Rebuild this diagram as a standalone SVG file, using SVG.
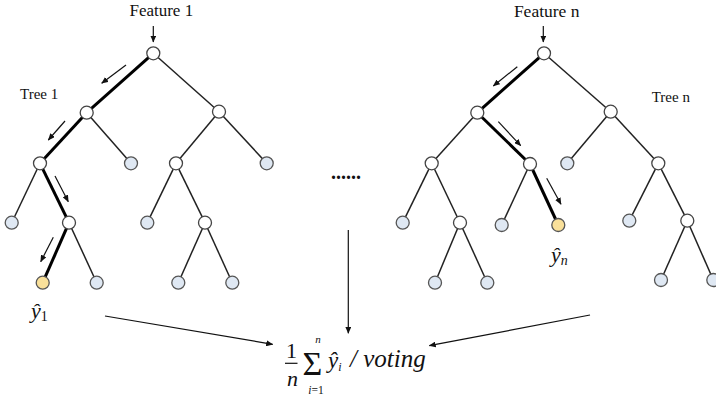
<svg xmlns="http://www.w3.org/2000/svg" width="716" height="396" viewBox="0 0 716 396">
<defs>
<marker id="ah" markerWidth="7" markerHeight="6" refX="6.5" refY="3" orient="auto" markerUnits="userSpaceOnUse">
<path d="M0,0 L7,3 L0,6 Z" fill="#111"/>
</marker>
</defs>
<style>
.e{stroke:#222;stroke-width:1.5;fill:none}
.b{stroke:#000;stroke-width:3;fill:none}
.in{fill:#fff;stroke:#444;stroke-width:1.3}
.lf{fill:#dfe8f3;stroke:#555;stroke-width:1.3}
.ye{fill:#f9e09a;stroke:#555;stroke-width:1.3}
.ar{stroke:#111;stroke-width:1.2;fill:none;marker-end:url(#ah)}
.t{font-family:"Liberation Serif","DejaVu Serif",serif;fill:#111}
.m{font-family:"Liberation Serif","DejaVu Serif",serif;font-style:italic;fill:#111}
</style>
<rect width="716" height="396" fill="#fff"/>
<g id="connectors">
<line class="b" x1="153.3" y1="53.3" x2="86.7" y2="112.7"/>
<line class="e" x1="153.3" y1="53.3" x2="219" y2="111.7"/>
<line class="b" x1="86.7" y1="112.7" x2="40" y2="163.3"/>
<line class="e" x1="86.7" y1="112.7" x2="131" y2="163.3"/>
<line class="e" x1="219" y1="111.7" x2="176" y2="163.3"/>
<line class="e" x1="219" y1="111.7" x2="266.7" y2="163.3"/>
<line class="e" x1="40" y1="163.3" x2="11.7" y2="222.7"/>
<line class="b" x1="40" y1="163.3" x2="69" y2="222.7"/>
<line class="e" x1="176" y1="163.3" x2="147.3" y2="222.7"/>
<line class="e" x1="176" y1="163.3" x2="205" y2="222.7"/>
<line class="b" x1="69" y1="222.7" x2="42.7" y2="282.7"/>
<line class="e" x1="69" y1="222.7" x2="96.7" y2="282.7"/>
<line class="e" x1="205" y1="222.7" x2="178.3" y2="282.7"/>
<line class="e" x1="205" y1="222.7" x2="232.3" y2="282.7"/>
<line class="b" x1="544" y1="53.3" x2="477.3" y2="112.7"/>
<line class="e" x1="544" y1="53.3" x2="610.7" y2="111.7"/>
<line class="e" x1="477.3" y1="112.7" x2="431.7" y2="163.3"/>
<line class="b" x1="477.3" y1="112.7" x2="530" y2="164"/>
<line class="e" x1="610.7" y1="111.7" x2="567.3" y2="163.3"/>
<line class="e" x1="610.7" y1="111.7" x2="658.3" y2="163.3"/>
<line class="e" x1="431.7" y1="163.3" x2="402.7" y2="222.7"/>
<line class="e" x1="431.7" y1="163.3" x2="460" y2="222.7"/>
<line class="e" x1="530" y1="164" x2="501.7" y2="225"/>
<line class="b" x1="530" y1="164" x2="558.3" y2="225"/>
<line class="e" x1="658.3" y1="163.3" x2="629.3" y2="220.7"/>
<line class="e" x1="658.3" y1="163.3" x2="687.3" y2="220.7"/>
<line class="e" x1="460" y1="222.7" x2="435" y2="282.7"/>
<line class="e" x1="460" y1="222.7" x2="487.3" y2="282.7"/>
<line class="e" x1="687.3" y1="220.7" x2="661" y2="280"/>
<line class="e" x1="687.3" y1="220.7" x2="713.3" y2="280"/>
<line class="ar" x1="153.3" y1="26" x2="153.3" y2="42"/>
<line class="ar" x1="543.3" y1="26" x2="543.3" y2="42"/>
<line class="ar" x1="126" y1="65" x2="101.7" y2="83.3"/>
<line class="ar" x1="65" y1="121" x2="48.3" y2="140"/>
<line class="ar" x1="55" y1="176" x2="68.3" y2="201.7"/>
<line class="ar" x1="53.3" y1="237.3" x2="40.7" y2="261.7"/>
<line class="ar" x1="517.3" y1="66.7" x2="493.3" y2="86"/>
<line class="ar" x1="498.3" y1="121.7" x2="520.7" y2="145.7"/>
<line class="ar" x1="546.7" y1="178.3" x2="561" y2="204.3"/>
<line class="ar" x1="105" y1="316" x2="272.7" y2="344.3"/>
<line class="ar" x1="348.3" y1="230" x2="348.3" y2="333.3"/>
<line class="ar" x1="590" y1="315" x2="429.3" y2="345.7"/>
</g>
<g id="tree1">
<circle class="in" cx="153.3" cy="53.3" r="6.5"/>
<circle class="in" cx="86.7" cy="112.7" r="6.5"/>
<circle class="in" cx="219" cy="111.7" r="6.5"/>
<circle class="in" cx="40" cy="163.3" r="6.5"/>
<circle class="lf" cx="131" cy="163.3" r="6.5"/>
<circle class="in" cx="176" cy="163.3" r="6.5"/>
<circle class="lf" cx="266.7" cy="163.3" r="6.5"/>
<circle class="lf" cx="11.7" cy="222.7" r="6.5"/>
<circle class="in" cx="69" cy="222.7" r="6.5"/>
<circle class="lf" cx="147.3" cy="222.7" r="6.5"/>
<circle class="in" cx="205" cy="222.7" r="6.5"/>
<circle class="ye" cx="42.7" cy="282.7" r="6.5"/>
<circle class="lf" cx="96.7" cy="282.7" r="6.5"/>
<circle class="lf" cx="178.3" cy="282.7" r="6.5"/>
<circle class="lf" cx="232.3" cy="282.7" r="6.5"/>
</g>
<g id="treen">
<circle class="in" cx="544" cy="53.3" r="6.5"/>
<circle class="in" cx="477.3" cy="112.7" r="6.5"/>
<circle class="in" cx="610.7" cy="111.7" r="6.5"/>
<circle class="in" cx="431.7" cy="163.3" r="6.5"/>
<circle class="in" cx="530" cy="164" r="6.5"/>
<circle class="lf" cx="567.3" cy="163.3" r="6.5"/>
<circle class="in" cx="658.3" cy="163.3" r="6.5"/>
<circle class="lf" cx="402.7" cy="222.7" r="6.5"/>
<circle class="in" cx="460" cy="222.7" r="6.5"/>
<circle class="lf" cx="501.7" cy="225" r="6.5"/>
<circle class="ye" cx="558.3" cy="225" r="6.5"/>
<circle class="lf" cx="629.3" cy="220.7" r="6.5"/>
<circle class="in" cx="687.3" cy="220.7" r="6.5"/>
<circle class="lf" cx="435" cy="282.7" r="6.5"/>
<circle class="lf" cx="487.3" cy="282.7" r="6.5"/>
<circle class="lf" cx="661" cy="280" r="6.5"/>
<circle class="lf" cx="713.3" cy="280" r="6.5"/>
</g>
<g id="labels">
<text class="t" x="161.3" y="15.5" font-size="17" text-anchor="middle">Feature 1</text>
<text class="t" x="546.7" y="16.5" font-size="17.5" text-anchor="middle">Feature n</text>
<text class="t" x="20" y="99.3" font-size="15">Tree 1</text>
<text class="t" x="651.7" y="101.7" font-size="15">Tree n</text>
<text class="t" x="331" y="178.5" font-size="20" font-weight="bold">......</text>
<text class="m" x="31" y="318" font-size="22">ŷ<tspan class="t" font-style="normal" font-size="14" dy="3">1</tspan></text>
<text class="m" x="551" y="262" font-size="22">ŷ<tspan font-size="14" dy="3">n</tspan></text>
</g>
<g id="formula">
<text class="t" x="291.5" y="358" font-size="22" text-anchor="middle">1</text>
<line x1="285" y1="363.3" x2="297.5" y2="363.3" stroke="#111" stroke-width="1.2"/>
<text class="m" x="292.5" y="386" font-size="22" text-anchor="middle">n</text>
<text class="t" x="312.5" y="375" font-size="34" text-anchor="middle">Σ</text>
<text class="m" x="318" y="343" font-size="11" text-anchor="middle">n</text>
<text class="m" x="316" y="394" font-size="11.5" text-anchor="middle">i<tspan class="t" font-style="normal">=1</tspan></text>
<text class="m" x="328" y="368" font-size="23">ŷ<tspan font-size="12" dy="3">i</tspan></text>
<text class="m" x="350" y="367" font-size="25">/ voting</text>
</g>
</svg>
